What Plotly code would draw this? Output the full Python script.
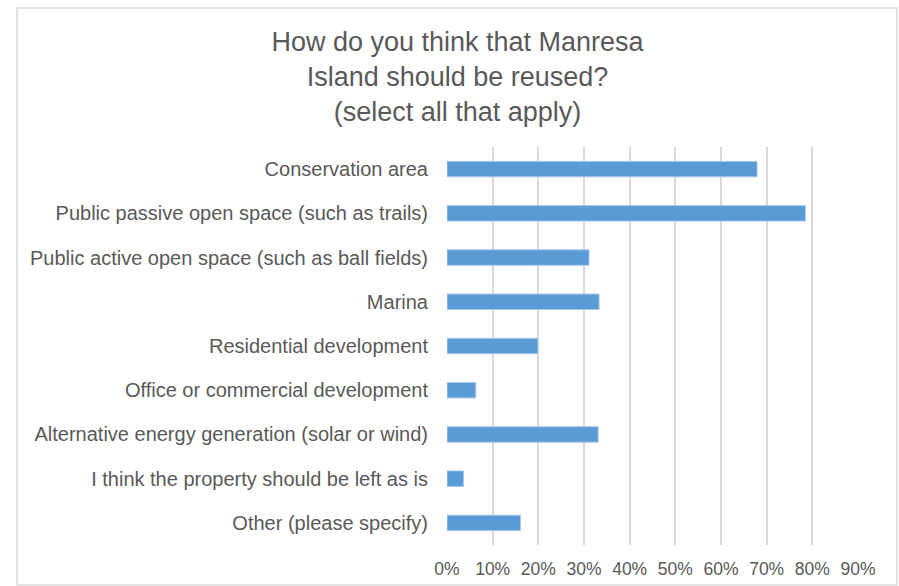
import plotly.graph_objects as go

# survey answers, top to bottom as shown in the chart
options = [
    "Conservation area",
    "Public passive open space (such as trails)",
    "Public active open space (such as ball fields)",
    "Marina",
    "Residential development",
    "Office or commercial development",
    "Alternative energy generation (solar or wind)",
    "I think the property should be left as is",
    "Other (please specify)",
]
share = [0.679, 0.785, 0.311, 0.333, 0.199, 0.063, 0.331, 0.036, 0.161]

x_ticks = [0.0, 0.1, 0.2, 0.3, 0.4, 0.5, 0.6, 0.7, 0.8, 0.9]
x_tick_text = ["0%", "10%", "20%", "30%", "40%", "50%", "60%", "70%", "80%", "90%"]

title = "How do you think that Manresa<br>Island should be reused?<br>(select all that apply)"

FONT = "Liberation Sans, Arial, sans-serif"
GREY = "#595959"
GRID = "#D9D9D9"

W, H = 899, 586
L, T = 447, 147
R, B = W - 858, H - 545
pw, ph = W - L - R, H - T - B

fig = go.Figure(go.Bar(
    x=share, y=options,
    orientation="h",
    width=0.35,
    marker=dict(color="#5B9BD5", line=dict(color="#A9C8EA", width=1)),
    hoverinfo="x+y",
))

# light frame around the whole chart, in plot-area paper units
fig.add_shape(
    type="rect", xref="paper", yref="paper",
    x0=(17 - L) / pw, x1=(897 - L) / pw,
    y0=(H - B - 585) / ph, y1=(H - B - 8) / ph,
    line=dict(color=GRID, width=1.5), layer="below",
)

fig.update_layout(
    width=W, height=H,
    margin=dict(l=L, r=R, t=T, b=B),
    paper_bgcolor="white", plot_bgcolor="white",
    showlegend=False,
    bargap=0.65,
    title=dict(
        text=title, x=457.5 / W, xanchor="center",
        y=1 - 51 / H, yanchor="top",
        font=dict(family=FONT, size=27, color=GREY),
    ),
    font=dict(family=FONT, color=GREY),
)
fig.update_xaxes(
    range=[0, 0.9], tickvals=x_ticks, ticktext=x_tick_text,
    showgrid=True, gridcolor=GRID, gridwidth=1.5,
    zeroline=False, showline=False, automargin=False,
    ticks="outside", ticklen=8, tickcolor="rgba(0,0,0,0)",
    tickfont=dict(size=17.5, color=GREY),
)
fig.update_yaxes(
    autorange="reversed", showgrid=False, showline=False, automargin=False,
    ticks="outside", ticklen=14, tickcolor="rgba(0,0,0,0)",
    tickfont=dict(size=20, color=GREY),
)

# drop the browser's default body margin so the figure fills the window
fig.write_html(
    "out.html",
    config={"displayModeBar": False},
    post_script="document.body.style.margin='0';",
)
